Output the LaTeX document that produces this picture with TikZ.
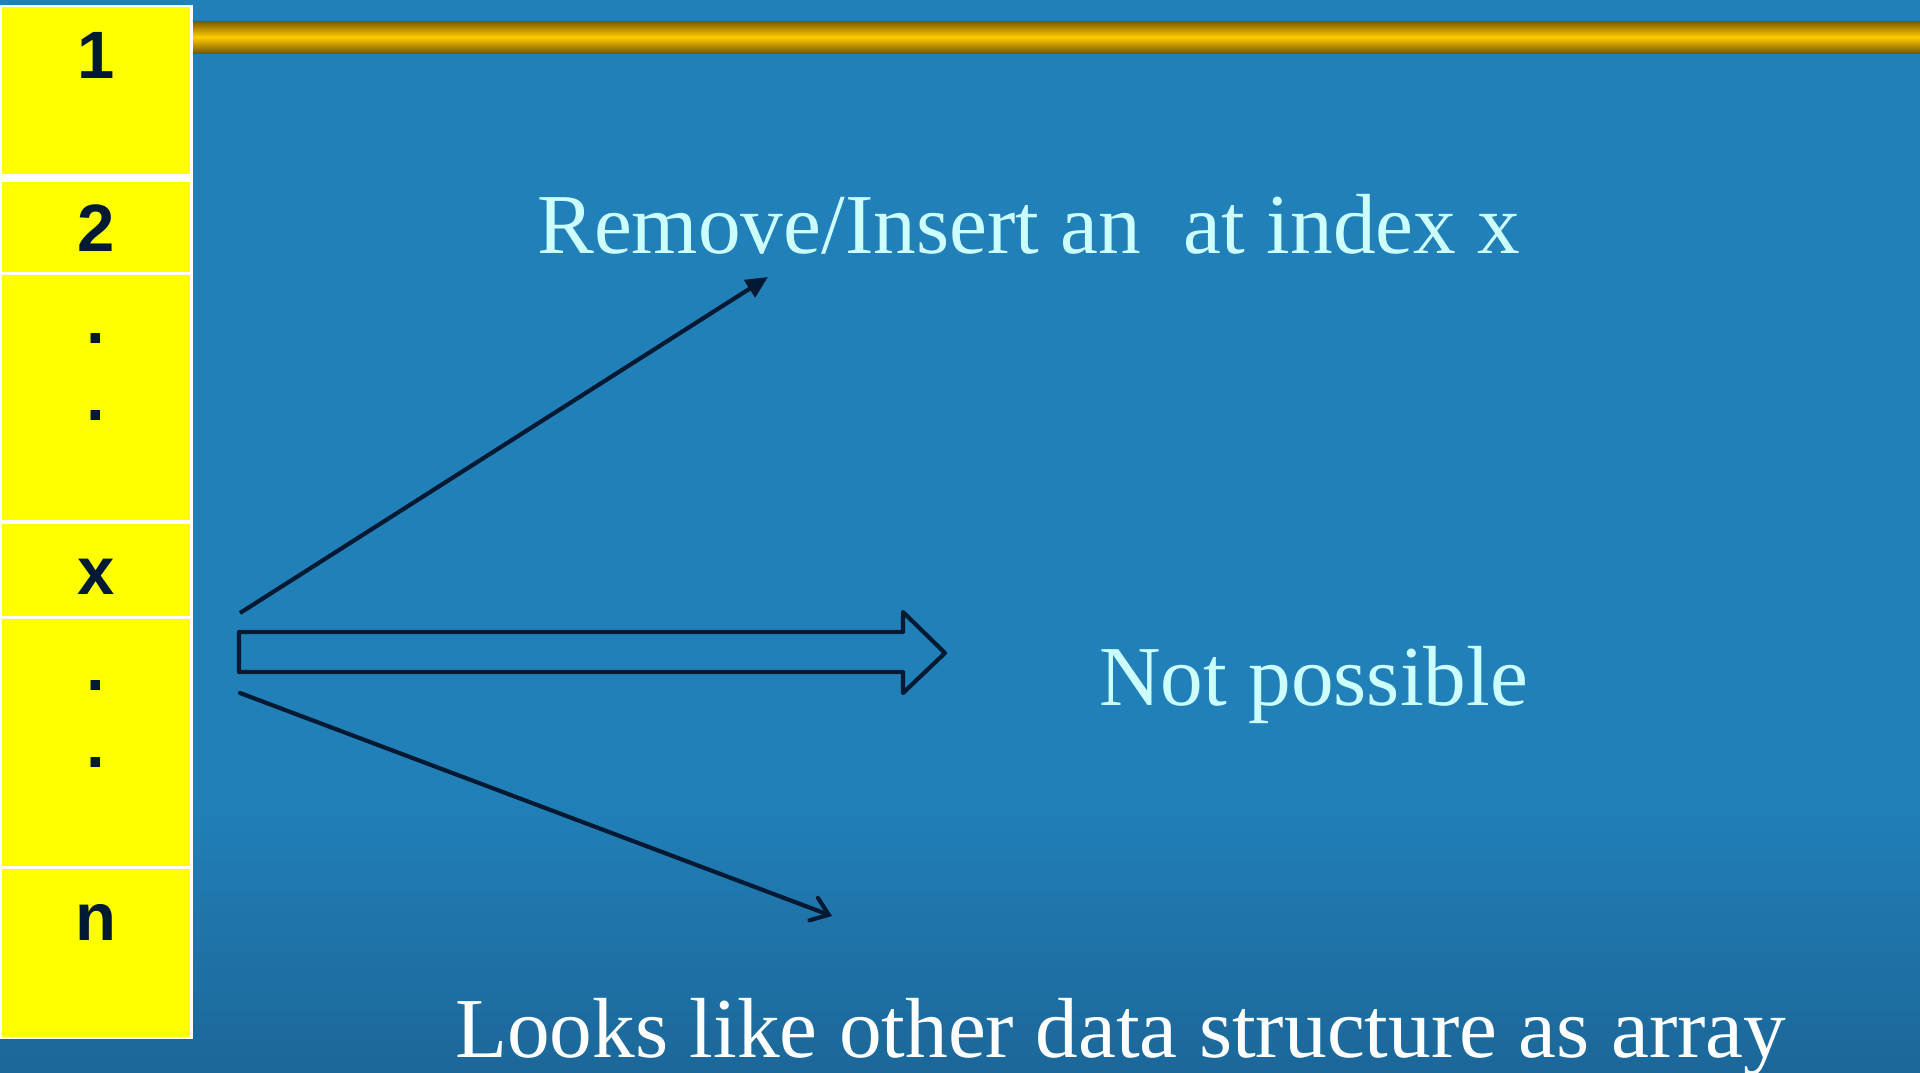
\documentclass[tikz,border=0pt]{standalone}
\usepackage{fontspec}
\setmainfont{Liberation Serif}
\newfontfamily\cellfont{Liberation Sans}
\usetikzlibrary{arrows.meta}

\definecolor{bgtop}{HTML}{2180B8}
\definecolor{bgbot}{HTML}{1C6799}
\definecolor{cellyellow}{HTML}{FFFF00}
\definecolor{ink}{HTML}{001A33}
\definecolor{pale}{HTML}{CCFFFF}
\definecolor{goldmid}{HTML}{FFCC00}
\definecolor{golddark}{HTML}{7A5800}

\tikzset{
  cell/.style={fill=cellyellow, draw=none},
  celllabel/.style={anchor=base, inner sep=0pt, text=ink,
    font=\cellfont\bfseries\fontsize{67}{70}\selectfont},
  caption/.style={anchor=base west, inner sep=0pt, text=pale,
    font=\fontsize{85.3}{100}\selectfont},
  connector/.style={draw=ink, line width=4.2pt},
}

\begin{document}
\begin{tikzpicture}[x=1pt, y=-1pt]
  \useasboundingbox (0,0) rectangle (1920,1072);

  % background with darker lower band
  \fill[bgtop] (0,0) rectangle (1920,800);
  \shade[top color=bgtop, bottom color=bgbot, draw=none] (0,799) rectangle (1920,1072);

  % gold rule across the top
  \shade[top color=golddark, bottom color=golddark, middle color=goldmid, draw=none]
    (193,21) rectangle (1920,53);

  % the array column: white frame with yellow cells
  \fill[white] (0,5) rectangle (193,1039);
  \fill[cell] (2,7)   rectangle (190,174);
  \fill[cell] (2,182) rectangle (190,272);
  \fill[cell] (2,275) rectangle (190,520);
  \fill[cell] (2,524) rectangle (190,616);
  \fill[cell] (2,619) rectangle (190,866);
  \fill[cell] (2,869) rectangle (190,1037);

  \node[celllabel] (c1) at (96,78)  {1};
  \node[celllabel] (c2) at (96,251) {2};
  \node[celllabel] (d1) at (96,343) {.};
  \node[celllabel] (d2) at (96,420) {.};
  \node[celllabel] (cx) at (96,594) {x};
  \node[celllabel] (d3) at (96,690) {.};
  \node[celllabel] (d4) at (96,767) {.};
  \node[celllabel] (cn) at (96,940) {n};

  % captions
  \node[caption] (ops) at (537,253) {Remove/Insert an\ \ at index x};
  \node[caption] (np)  at (1099,705) {Not possible};
  \node[caption, text=white] (look) at (455,1057) {Looks like other data structure as array};

  % connectors from the cell x
  \coordinate (upstart) at (240,613);
  \coordinate (uptip)   at (768,277);
  \coordinate (lowstart) at (240,693);
  \coordinate (lowtip)   at (832,916);

  \draw[connector, -{Triangle[length=22pt, width=20pt]}] (upstart) -- (uptip);
  \draw[connector, line cap=round,
        -{Straight Barb[length=16pt, width=24pt, line cap=round]}] (lowstart) -- (lowtip);

  % outlined block arrow towards "Not possible"
  \draw[connector, line join=round]
    (239,632) -- (903,632) -- (903,612) -- (945,653) -- (903,693) -- (903,672) -- (239,672) -- cycle;
\end{tikzpicture}
\end{document}
